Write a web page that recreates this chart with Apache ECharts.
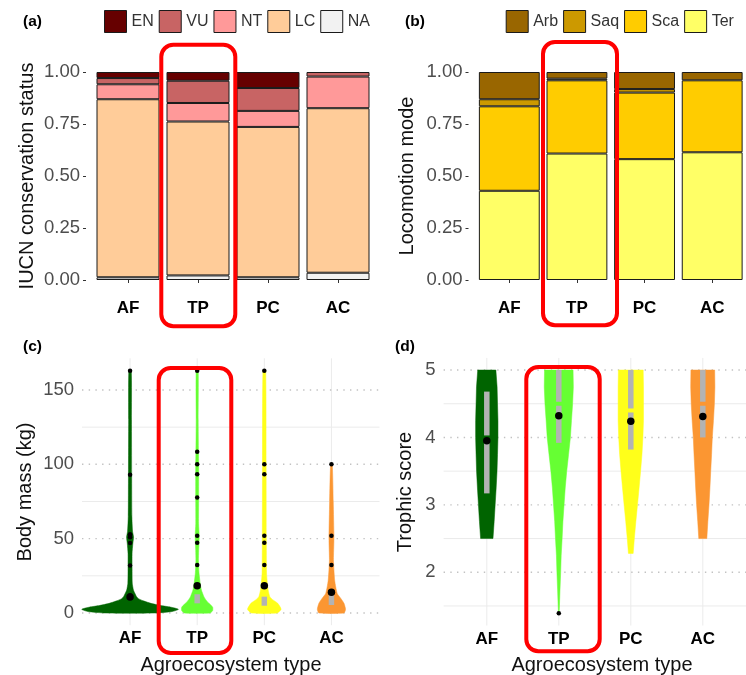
<!DOCTYPE html>
<html><head><meta charset="utf-8">
<script src="https://cdn.jsdelivr.net/npm/echarts@6/dist/echarts.min.js"></script>
<style>html,body{margin:0;padding:0;background:#fff}#chart{width:746px;height:675px}</style>
</head><body><div id="chart"></div>
<script>
// ---------- data ----------
const categories = ['AF', 'TP', 'PC', 'AC'];

// (a) IUCN conservation status (proportions, stacked bottom -> top: NA, LC, NT, VU, EN)
const iucnNA = [0.013, 0.022, 0.013, 0.035];
const iucnLC = [0.856, 0.740, 0.723, 0.791];
const iucnNT = [0.072, 0.089, 0.077, 0.152];
const iucnVU = [0.030, 0.107, 0.110, 0.022];
const iucnEN = [0.029, 0.042, 0.077, 0.000];

// (b) Locomotion mode (stacked bottom -> top: Ter, Sca, Saq, Arb)
const locoTer = [0.429, 0.608, 0.581, 0.614];
const locoSca = [0.406, 0.352, 0.320, 0.346];
const locoSaq = [0.034, 0.008, 0.017, 0.000];
const locoArb = [0.131, 0.032, 0.082, 0.040];
const shareTicks = [0, 0.25, 0.5, 0.75, 1];

// (c) Body mass (kg): violin outline [value, half width in category units]
const massViolinAF = [[0,0.37],[1,0.63],[2.5,0.72],[4,0.60],[5,0.46],[6.5,0.31],[8,0.21],[9.5,0.13],[11,0.097],[13,0.075],[15.5,0.05],[20,0.033],[30,0.03],[40,0.03],[47,0.042],[51,0.052],[55,0.037],[65,0.027],[93,0.024],[130,0.021],[163,0.018]];
const massViolinTP = [[0,0.19],[1.5,0.23],[4,0.23],[6.5,0.175],[9,0.127],[11,0.10],[15.5,0.063],[20,0.045],[27,0.027],[35,0.019],[42,0.022],[47,0.027],[52,0.03],[60,0.021],[77,0.022],[100,0.022],[108,0.019],[130,0.015],[163,0.015]];
const massViolinPC = [[0,0.19],[2.5,0.25],[6.5,0.2],[9,0.124],[11,0.082],[15.5,0.057],[20,0.045],[27,0.033],[50,0.03],[100,0.027],[163,0.02]];
const massViolinAC = [[0,0.187],[2.5,0.21],[6.5,0.187],[10,0.137],[13,0.087],[17.7,0.063],[22,0.048],[29,0.037],[36,0.03],[50,0.037],[75,0.027],[100,0.012]];
const massQ1 = [null, 6.5, 4.9, 5.4];
const massMedian = [null, null, null, null];
const massQ3 = [null, 12.6, 11.0, 12.1];
const massMeans = [10.8, 18.4, 18.4, 13.9];
const massOutliersAF = [163, 93, 53, 52, 51, 47, 32, 12];
const massOutliersTP = [163, 108.5, 100, 93.3, 77.6, 52, 47.3, 32.3];
const massOutliersPC = [163, 100, 93.3, 52, 47.3, 32.3];
const massOutliersAC = [100, 52, 32.3];
const massTicks = [0, 50, 100, 150];
const massMinorTicks = [25, 75, 125];

// (d) Trophic score
const trophicViolinAF = [[2.5,0.086],[2.75,0.102],[3.0,0.116],[3.25,0.13],[3.5,0.142],[3.75,0.149],[4.0,0.155],[4.25,0.155],[4.5,0.149],[4.75,0.143],[5.0,0.126]];
const trophicViolinTP = [[1.39,0.004],[1.5,0.009],[1.75,0.017],[2.0,0.026],[2.25,0.033],[2.5,0.046],[2.75,0.057],[3.0,0.073],[3.25,0.089],[3.5,0.11],[3.75,0.136],[4.0,0.161],[4.25,0.176],[4.5,0.192],[4.75,0.202],[5.0,0.198]];
const trophicViolinPC = [[2.28,0.033],[2.5,0.049],[2.75,0.07],[3.0,0.093],[3.25,0.115],[3.5,0.136],[3.75,0.155],[4.0,0.168],[4.25,0.176],[4.5,0.176],[4.75,0.176],[5.0,0.172]];
const trophicViolinAC = [[2.5,0.056],[2.75,0.07],[3.0,0.086],[3.25,0.099],[3.5,0.11],[3.75,0.122],[4.0,0.132],[4.25,0.148],[4.5,0.161],[4.75,0.168],[5.0,0.165]];
const trophicQ1 = [3.17, 3.92, 3.82, 4.0];
const trophicMedian = [4.0, 4.5, 4.4, 4.5];
const trophicQ3 = [4.68, 5.0, 5.0, 5.0];
const trophicMeans = [3.95, 4.32, 4.24, 4.31];
const trophicOutliersAF = [];
const trophicOutliersTP = [1.39];
const trophicOutliersPC = [];
const trophicOutliersAC = [];
const trophicTicks = [2, 3, 4, 5];
const trophicMinorTicks = [1.5, 2.5, 3.5, 4.5];

// ---------- styling ----------
const FONT = '"Liberation Sans", Arial, Helvetica, sans-serif';
const violinColors = ['#006400', '#66ff33', '#ffff1a', '#fb9632'];
const boxGray = '#b3b3b3';
const cRange = {x: [0.284, 4.716], y: [-8.2, 171.3]};
const dRange = {x: [0.4, 4.6], y: [1.21, 5.18]};

const chart = echarts.init(document.getElementById('chart'), null, {renderer: 'canvas'});

function nz(arr) { return arr.map(v => (v === 0 ? null : v)); }

function barSeries(name, data, color, idx, stack) {
  return {
    name, type: 'bar', xAxisIndex: idx, yAxisIndex: idx, stack,
    barWidth: '90%', data: nz(data),
    itemStyle: {color, borderColor: '#1a1a1a', borderWidth: 1},
    emphasis: {disabled: true}, silent: true
  };
}

function hLineSeries(idx, ticks, range, style) {
  return {
    type: 'custom', xAxisIndex: idx, yAxisIndex: idx, silent: true, z: 0,
    data: ticks.map(v => [v]),
    encode: {y: 0},
    renderItem: (params, api) => {
      const v = api.value(0);
      const p1 = api.coord([range.x[0], v]);
      const p2 = api.coord([range.x[1], v]);
      return {type: 'line', shape: {x1: p1[0], y1: p1[1], x2: p2[0], y2: p2[1]}, style};
    }
  };
}

function vLineSeries(idx, range, style) {
  return {
    type: 'custom', xAxisIndex: idx, yAxisIndex: idx, silent: true, z: 0,
    data: categories.map((c, i) => [i + 1]),
    encode: {x: 0},
    renderItem: (params, api) => {
      const x = api.value(0);
      const p1 = api.coord([x, range.y[0]]);
      const p2 = api.coord([x, range.y[1]]);
      return {type: 'line', shape: {x1: p1[0], y1: p1[1], x2: p2[0], y2: p2[1]}, style};
    }
  };
}

function violinSeries(idx, profiles, smooth) {
  return {
    type: 'custom', xAxisIndex: idx, yAxisIndex: idx, silent: true, z: 2,
    data: categories.map((c, i) => [i + 1]),
    encode: {x: 0},
    renderItem: (params, api) => {
      const i = params.dataIndex;
      const x = api.value(0);
      const prof = profiles[i];
      const pts = [];
      prof.forEach(p => pts.push(api.coord([x + p[1], p[0]])));
      for (let k = prof.length - 1; k >= 0; k--) pts.push(api.coord([x - prof[k][1], prof[k][0]]));
      return {type: 'polygon', shape: {points: pts, smooth: smooth},
        style: {fill: violinColors[i], stroke: violinColors[i], lineWidth: 0.5}};
    }
  };
}

function boxSeries(idx, q1, med, q3) {
  return {
    type: 'custom', xAxisIndex: idx, yAxisIndex: idx, silent: true, z: 3,
    data: categories.map((c, i) => [i + 1, q1[i], med[i], q3[i]]),
    encode: {x: 0, y: [1, 3]},
    renderItem: (params, api) => {
      const i = params.dataIndex;
      if (q1[i] == null) return null;
      const x = api.value(0);
      const top = api.coord([x, q3[i]]);
      const bot = api.coord([x, q1[i]]);
      const w = 5.5;
      const children = [{type: 'rect', shape: {x: top[0] - w / 2, y: top[1], width: w, height: bot[1] - top[1]}, style: {fill: boxGray}}];
      if (med[i] != null) {
        const m = api.coord([x, med[i]]);
        children.push({type: 'rect', shape: {x: m[0] - w / 2 - 0.5, y: m[1] - 2, width: w + 1, height: 4}, style: {fill: violinColors[i]}});
      }
      return {type: 'group', children};
    }
  };
}

function pointSeries(idx, lists, size, z) {
  const data = [];
  lists.forEach((vals, i) => vals.forEach(v => data.push([i + 1, v])));
  return {type: 'scatter', xAxisIndex: idx, yAxisIndex: idx, symbolSize: size, z, silent: true,
    itemStyle: {color: '#000', opacity: 1}, data};
}

const tickLabelStyle = {color: '#4d4d4d', fontSize: 18.5, fontFamily: FONT};
const catLabelStyle = {color: '#000', fontSize: 17, fontWeight: 'bold', fontFamily: FONT};
const majorStyle = {stroke: '#c2c2c2', lineWidth: 1.4, lineDash: [1.4, 5.3]};
const minorStyle = {stroke: '#ebebeb', lineWidth: 1};

function shareYAxis(gi) {
  return {
    type: 'value', gridIndex: gi, min: -0.05, max: 1.05, offset: 7,
    axisLine: {show: false},
    axisTick: {show: true, length: 3, customValues: shareTicks, lineStyle: {color: '#333'}},
    axisLabel: Object.assign({customValues: shareTicks, margin: 6, formatter: v => v.toFixed(2)}, tickLabelStyle),
    splitLine: {show: false}
  };
}
function catXAxis(gi) {
  return {
    type: 'category', gridIndex: gi, data: categories,
    axisLine: {show: false},
    axisTick: {show: true, alignWithLabel: true, length: 3, lineStyle: {color: '#333'}},
    axisLabel: Object.assign({margin: 9}, catLabelStyle),
    splitLine: {show: false}
  };
}
function violinXAxis(gi, range) {
  return {
    type: 'value', gridIndex: gi, min: range.x[0], max: range.x[1],
    axisLine: {show: false}, axisTick: {show: false}, splitLine: {show: false},
    axisLabel: Object.assign({customValues: [1, 2, 3, 4], margin: 5,
      formatter: v => categories[Math.round(v) - 1] || ''}, catLabelStyle)
  };
}
function violinYAxis(gi, range, ticks) {
  return {
    type: 'value', gridIndex: gi, min: range.y[0], max: range.y[1],
    axisLine: {show: false}, axisTick: {show: false, customValues: ticks}, splitLine: {show: false},
    axisLabel: Object.assign({customValues: ticks, margin: 8, formatter: v => String(v)}, tickLabelStyle)
  };
}

const legendBase = {
  icon: 'rect', itemWidth: 22, itemHeight: 22, itemGap: 5, top: 10, padding: 0, selectedMode: false,
  itemStyle: {borderColor: '#1a1a1a', borderWidth: 1},
  textStyle: {fontSize: 16, color: '#333', fontFamily: FONT}
};

function label(text, x, y, opts) {
  return Object.assign({type: 'text', x, y, z: 50, silent: true,
    style: Object.assign({text, fill: '#111', fontFamily: FONT, fontSize: 20, align: 'center', verticalAlign: 'middle'}, (opts && opts.style) || {})},
    (opts && opts.el) || {});
}
function redBox(x, y, w, h) {
  return {type: 'rect', z: 100, silent: true, shape: {x, y, width: w, height: h, r: 12},
    style: {fill: 'none', stroke: '#ff0000', lineWidth: 4}};
}

const option = {
  animation: false,
  backgroundColor: '#fff',
  grid: [
    {left: 93, top: 61.6, width: 280, height: 228.8},
    {left: 475.5, top: 61.6, width: 276, height: 228.8},
    {left: 82, top: 358.3, width: 297.5, height: 266.9},
    {left: 443.6, top: 357.9, width: 317.5, height: 267.6}
  ],
  legend: [
    Object.assign({}, legendBase, {left: 104, data: ['EN', 'VU', 'NT', 'LC', 'NA']}),
    Object.assign({}, legendBase, {left: 505.7, data: ['Arb', 'Saq', 'Sca', 'Ter']})
  ],
  xAxis: [catXAxis(0), catXAxis(1), violinXAxis(2, cRange), violinXAxis(3, dRange)],
  yAxis: [shareYAxis(0), shareYAxis(1), violinYAxis(2, cRange, massTicks), violinYAxis(3, dRange, trophicTicks)],
  series: [
    barSeries('NA', iucnNA, '#f2f2f2', 0, 'iucn'),
    barSeries('LC', iucnLC, '#ffcc99', 0, 'iucn'),
    barSeries('NT', iucnNT, '#ff9999', 0, 'iucn'),
    barSeries('VU', iucnVU, '#c86464', 0, 'iucn'),
    barSeries('EN', iucnEN, '#660000', 0, 'iucn'),
    barSeries('Ter', locoTer, '#ffff66', 1, 'loco'),
    barSeries('Sca', locoSca, '#ffcc00', 1, 'loco'),
    barSeries('Saq', locoSaq, '#cc9900', 1, 'loco'),
    barSeries('Arb', locoArb, '#996600', 1, 'loco'),
    // (c)
    hLineSeries(2, massMinorTicks, cRange, minorStyle),
    vLineSeries(2, cRange, minorStyle),
    hLineSeries(2, massTicks, cRange, majorStyle),
    violinSeries(2, [massViolinAF, massViolinTP, massViolinPC, massViolinAC], 0.2),
    boxSeries(2, massQ1, massMedian, massQ3),
    pointSeries(2, [massOutliersAF, massOutliersTP, massOutliersPC, massOutliersAC], 4.5, 4),
    pointSeries(2, massMeans.map(v => [v]), 7.5, 5),
    // (d)
    hLineSeries(3, trophicMinorTicks, dRange, minorStyle),
    vLineSeries(3, dRange, minorStyle),
    hLineSeries(3, trophicTicks, dRange, majorStyle),
    violinSeries(3, [trophicViolinAF, trophicViolinTP, trophicViolinPC, trophicViolinAC], 0),
    boxSeries(3, trophicQ1, trophicMedian, trophicQ3),
    pointSeries(3, [trophicOutliersAF, trophicOutliersTP, trophicOutliersPC, trophicOutliersAC], 4.5, 4),
    pointSeries(3, trophicMeans.map(v => [v]), 7.5, 5)
  ],
  graphic: [
    label('(a)', 23, 22, {style: {fontSize: 15.5, fontWeight: 'bold', align: 'left', fill: '#000'}}),
    label('(b)', 405, 22, {style: {fontSize: 15.5, fontWeight: 'bold', align: 'left', fill: '#000'}}),
    label('(c)', 23, 347, {style: {fontSize: 15.5, fontWeight: 'bold', align: 'left', fill: '#000'}}),
    label('(d)', 395, 347, {style: {fontSize: 15.5, fontWeight: 'bold', align: 'left', fill: '#000'}}),
    label('IUCN conservation status', 27.5, 176, {el: {rotation: Math.PI / 2}}),
    label('Locomotion mode', 407.5, 176, {el: {rotation: Math.PI / 2}}),
    label('Body mass (kg)', 25, 492, {el: {rotation: Math.PI / 2}}),
    label('Trophic score', 405, 492, {el: {rotation: Math.PI / 2}}),
    label('Agroecosystem type', 231, 665),
    label('Agroecosystem type', 602, 665),
    redBox(161.3, 44.7, 74, 281.6),
    redBox(543, 42, 74, 283.3),
    redBox(158.7, 368, 72.6, 285),
    redBox(526.3, 367, 73.4, 284.3)
  ]
};
chart.setOption(option);
</script>
</body></html>
